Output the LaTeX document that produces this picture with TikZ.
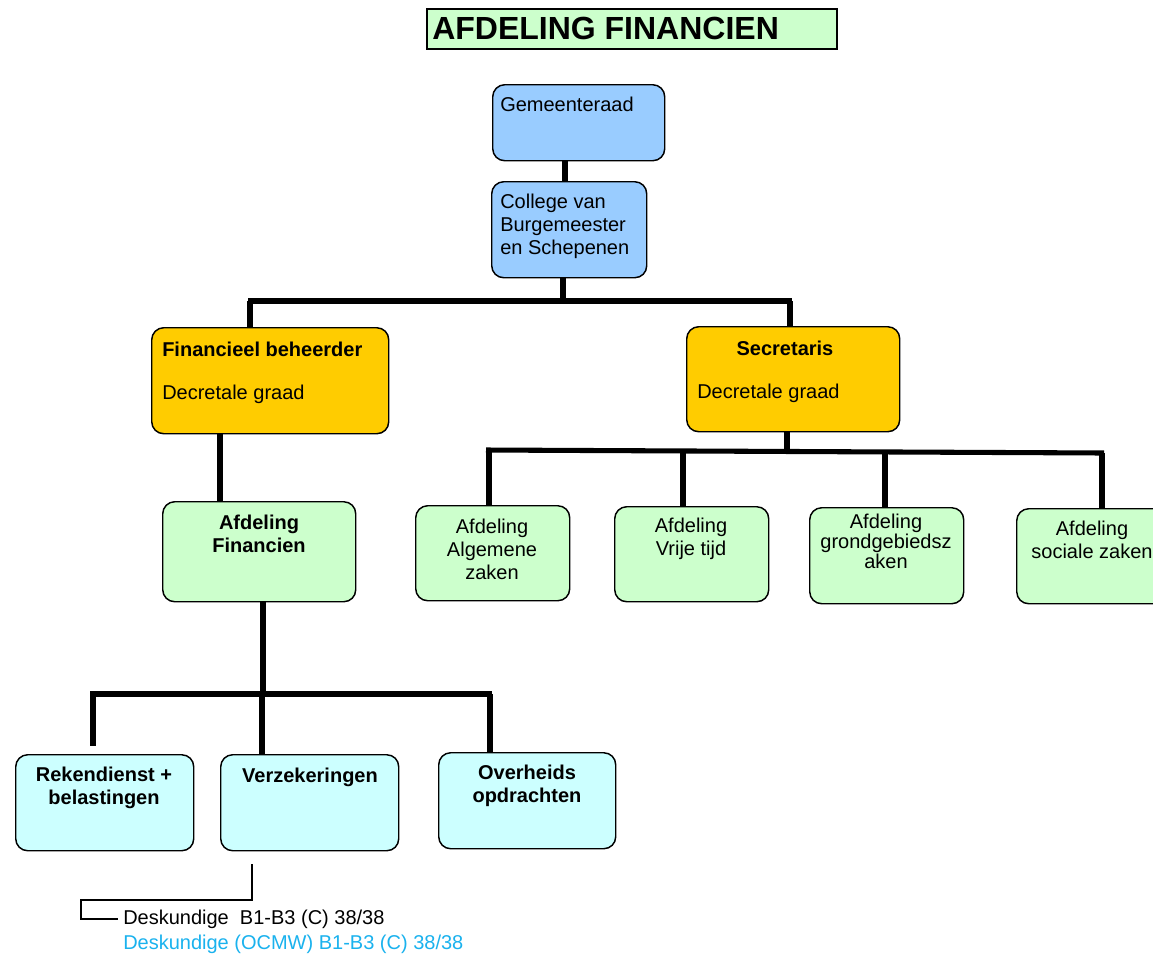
\documentclass[tikz,border=0pt]{standalone}
\usepackage{fontspec}
\setmainfont{Liberation Sans}
\definecolor{blueF}{HTML}{99CCFF}
\definecolor{orangeF}{HTML}{FFCC00}
\definecolor{greenF}{HTML}{CCFFCC}
\definecolor{cyanF}{HTML}{CCFFFF}
\definecolor{blueT}{HTML}{1AB2EE}
\tikzset{
  box/.style={draw=black, line width=1.1pt, rounded corners=9pt, inner sep=0pt, anchor=north west},
  conn/.style={line width=3.8pt},
  thin/.style={line width=1.5pt},
  txt/.style={inner sep=0pt, font=\fontsize{15}{17.25}\selectfont},
  txtb/.style={inner sep=0pt, font=\bfseries\fontsize{15}{17.25}\selectfont},
}
\newcommand{\obox}[6]{\node[box, fill=#2, minimum width={#5*0.75pt}, minimum height={#6*0.75pt}] (#1) at (#3,#4) {};}
\begin{document}
\begin{tikzpicture}[x=0.75pt,y=-0.75pt]
\clip (0,0) rectangle (1153,958);
\fill[white] (0,0) rectangle (1153,958);
% title
\node[draw=black, line width=1.4pt, fill=greenF, anchor=north west, inner sep=0pt,
      minimum width={410*0.75pt}, minimum height={40*0.75pt}] (title) at (426,8) {};
\node[inner sep=0pt, anchor=west, font=\bfseries\fontsize{24}{28}\selectfont] (titletxt) at (432,28) {AFDELING FINANCIEN};
% boxes
\obox{gem}{blueF}{492}{84}{172}{76}
\obox{col}{blueF}{491}{181}{155}{96}
\obox{fin}{orangeF}{151}{327}{237}{106}
\obox{sec}{orangeF}{686}{326}{213}{105}
\obox{afdfin}{greenF}{162}{501}{193}{100}
\obox{rek}{cyanF}{15}{754}{178}{96}
\obox{verz}{cyanF}{220}{754}{178}{96}
\obox{ovh}{cyanF}{438}{752}{177}{96}
\obox{alg}{greenF}{415}{505}{154}{95}
\obox{vrij}{greenF}{614}{506}{154}{95}
\obox{grond}{greenF}{809}{507}{154}{96}
\obox{soc}{greenF}{1016}{508}{154}{95}
% texts
\node[txt, anchor=west] (tgem) at (500,104) {Gemeenteraad};
\node[txt, anchor=west, align=left] (tcol) at (500,226) {College van\\Burgemeester\\en Schepenen};
\node[txtb, anchor=west] (tfin1) at (162,349) {Financieel beheerder};
\node[txt, anchor=west] (tfin2) at (162,394) {Decretale graad};
\node[txtb] (tsec1) at (785,348) {Secretaris};
\node[txt, anchor=west] (tsec2) at (697,393) {Decretale graad};
\node[txtb, align=center] (tafd) at (259,534) {Afdeling\\Financien};
\node[txtb, align=center] (trek) at (104,788) {Rekendienst +\\belastingen};
\node[txtb] (tverz) at (310,777) {Verzekeringen};
\node[txtb, align=center] (tovh) at (527,786) {Overheids\\opdrachten};
\node[txt, align=center] (talg) at (492,549) {Afdeling\\Algemene\\zaken};
\node[txt, align=center] (tvrij) at (691,539) {Afdeling\\Vrije tijd};
\node[inner sep=0pt, align=center, font=\fontsize{15}{13.8}\selectfont] (tgrond) at (886,541) {Afdeling\\grondgebiedsz\\aken};
\node[txt, align=center] (tsoc) at (1092,540) {Afdeling\\sociale zaken};
\node[txt, anchor=west] (desk1) at (123,919) {Deskundige\ \ B1-B3 (C) 38/38};
\node[txt, anchor=west, text=blueT] (desk2) at (123,944) {Deskundige (OCMW) B1-B3 (C) 38/38};
% connectors top
\coordinate (j0) at (565,170);
\draw[conn] (gem.south -| j0) -- (col.north -| j0);
\coordinate (b1) at (563,301);
\coordinate (b1L) at (248,301);
\coordinate (b1R) at (792,301);
\coordinate (d1) at (250,301);
\coordinate (d2) at (790,301);
\draw[conn] (col.south -| b1) -- (b1);
\draw[conn] (b1L) -- (b1R);
\draw[conn] (d1) -- (fin.north -| d1);
\draw[conn] (d2) -- (sec.north -| d2);
% financieel to afdeling
\coordinate (j2) at (220,460);
\draw[conn] (fin.south -| j2) -- (afdfin.north -| j2);
% afdeling financien to sub
\coordinate (b2) at (263,694);
\coordinate (b2L) at (90,694);
\coordinate (b2R) at (492,694);
\coordinate (e1) at (93,692);
\coordinate (e1b) at (93,746);
\coordinate (e2) at (262,694);
\coordinate (e3) at (490,694);
\draw[conn] (afdfin.south -| b2) -- (b2);
\draw[conn] (b2L) -- (b2R);
\draw[conn] (e1) -- (e1b);
\draw[conn] (e2) -- (verz.north -| e2);
\draw[conn] (e3) -- (ovh.north -| e3);
% secretaris to afdelingen
\coordinate (b3) at (787,451);
\coordinate (b3L) at (486,450);
\coordinate (b3R) at (1104,453);
\coordinate (f1) at (489,450);
\coordinate (f2) at (683,451);
\coordinate (f3) at (885,452);
\coordinate (f4) at (1102,453);
\draw[conn] (sec.south -| b3) -- (b3);
\draw[conn] (b3L) -- (b3R);
\draw[conn] (f1) -- (alg.north -| f1);
\draw[conn] (f2) -- (vrij.north -| f2);
\draw[conn] (f3) -- (grond.north -| f3);
\draw[conn] (f4) -- (soc.north -| f4);
% bottom bracket
\coordinate (k0) at (252,864);
\coordinate (k1) at (81,900);
\coordinate (k2) at (118,919);
\draw[thin] (k0) |- (k1) |- (k2);
\end{tikzpicture}
\end{document}
